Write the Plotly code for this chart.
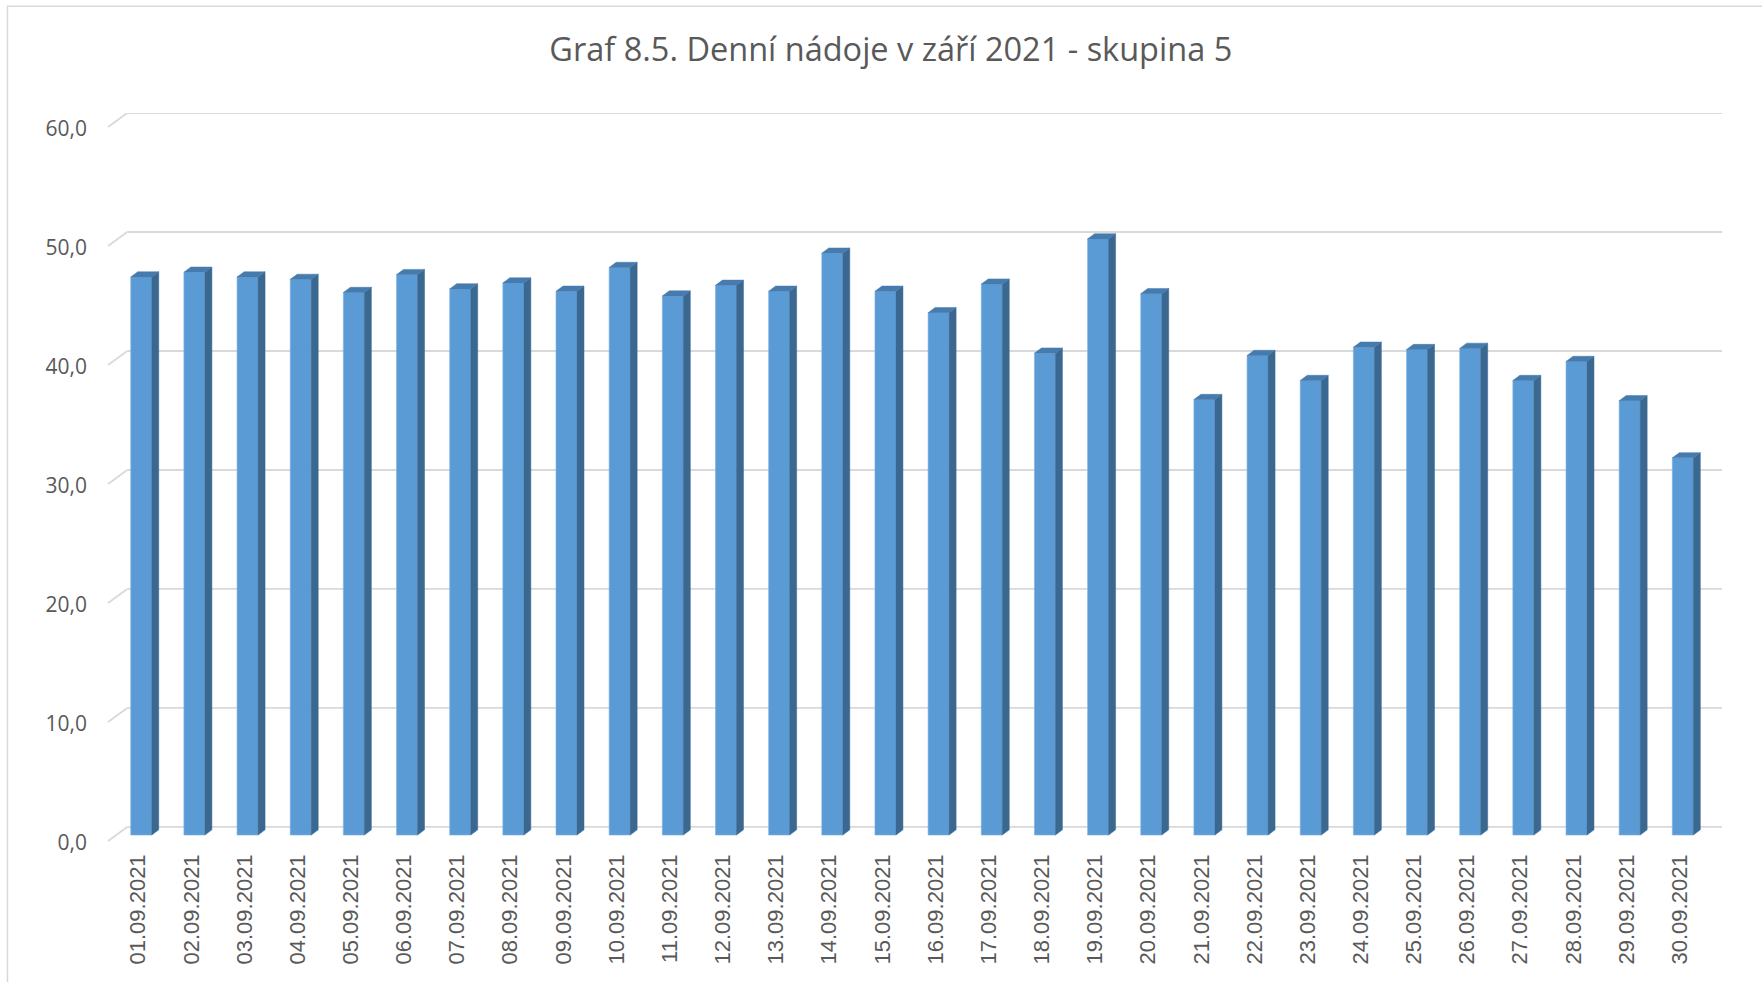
import plotly.graph_objects as go

# ---- data ----
dates = ["01.09.2021", "02.09.2021", "03.09.2021", "04.09.2021", "05.09.2021",
         "06.09.2021", "07.09.2021", "08.09.2021", "09.09.2021", "10.09.2021",
         "11.09.2021", "12.09.2021", "13.09.2021", "14.09.2021", "15.09.2021",
         "16.09.2021", "17.09.2021", "18.09.2021", "19.09.2021", "20.09.2021",
         "21.09.2021", "22.09.2021", "23.09.2021", "24.09.2021", "25.09.2021",
         "26.09.2021", "27.09.2021", "28.09.2021", "29.09.2021", "30.09.2021"]
values = [46.9, 47.3, 46.9, 46.7, 45.6, 47.1, 45.9, 46.4, 45.7, 47.7,
          45.3, 46.2, 45.7, 48.9, 45.7, 43.9, 46.3, 40.5, 50.1, 45.5,
          36.6, 40.3, 38.2, 41.0, 40.8, 40.9, 38.2, 39.8, 36.5, 31.7]
y_ticks = [0, 10, 20, 30, 40, 50, 60]
title_text = "Graf 8.5. Denní nádoje v září 2021 - skupina 5"

# ---- style / geometry (pixel-derived constants) ----
W, H = 1762, 982
px_per_cat = 53.16
px_per_unit = 11.9
x_range = [-0.9, 29.5]
y_range = [-1.6, 60.0]
plot_left = 127.5 - 0.4 * px_per_cat
plot_w = (x_range[1] - x_range[0]) * px_per_cat
plot_top = 112.7
plot_h = (y_range[1] - y_range[0]) * px_per_unit
m_l = plot_left
m_r = W - plot_left - plot_w
m_t = plot_top
m_b = H - plot_top - plot_h

front_shift = -12.6 / px_per_cat      # front face centre relative to back-wall category centre
bar_w = 21.0 / px_per_cat
front_dy = 8.1 / px_per_unit          # front face lowered (perspective)
side_w = 7.0 / px_per_cat
side_h = 5.2 / px_per_unit
wall_dx = 19.2 / px_per_cat
wall_dy = 14.0 / px_per_unit
label_shift = 16.0 / px_per_unit
label_dx = -3.0 / px_per_cat

C_FRONT = "#5B9BD5"
C_SIDE = "#3B6890"
C_TOP = "#467BAE"
C_GRID = "#D9D9D9"
C_TEXT = "#595959"

n = len(values)
xs = [i + front_shift for i in range(n)]

fig = go.Figure()

# side and top faces of the 3-D columns
sx, sy = [], []
tx, ty = [], []
for x, v in zip(xs, values):
    xr = x + bar_w / 2
    xl = x - bar_w / 2
    top = v - front_dy
    sx += [xr, xr, xr + side_w, xr + side_w, xr, None]
    sy += [-front_dy, top, top + side_h, -front_dy + side_h, -front_dy, None]
    tx += [xl, xr, xr + side_w, xl + side_w, xl, None]
    ty += [top, top, top + side_h, top + side_h, top, None]
fig.add_trace(go.Scatter(x=sx, y=sy, mode="lines", fill="toself", fillcolor=C_SIDE,
                         line=dict(color=C_SIDE, width=0.5), hoverinfo="skip", showlegend=False))
fig.add_trace(go.Scatter(x=tx, y=ty, mode="lines", fill="toself", fillcolor=C_TOP,
                         line=dict(color=C_TOP, width=0.5), hoverinfo="skip", showlegend=False))

# front faces
fig.add_trace(go.Bar(x=xs, y=values, base=[-front_dy] * n, width=bar_w,
                     marker=dict(color=C_FRONT, line=dict(color="#7FB2E0", width=0.6)),
                     customdata=dates, hovertemplate="%{customdata}: %{y:.1f}<extra></extra>",
                     showlegend=False))

# dummy trace to anchor the label axis
fig.add_trace(go.Scatter(x=[0], y=[0], yaxis="y2", mode="markers",
                         marker=dict(opacity=0), hoverinfo="skip", showlegend=False))

# gridlines on back wall + left-wall diagonals (below the columns)
shapes = []
for v in y_ticks:
    shapes.append(dict(type="line", xref="x", yref="y", x0=-0.5, x1=n - 0.5, y0=v, y1=v,
                       line=dict(color=C_GRID, width=1.8), layer="below"))
    shapes.append(dict(type="line", xref="x", yref="y", x0=-0.5 - wall_dx, x1=-0.5,
                       y0=v - wall_dy, y1=v, line=dict(color=C_GRID, width=1.8), layer="below"))
# chart-area border
shapes.append(dict(type="rect", xref="paper", yref="paper",
                   x0=(7.7 - m_l) / plot_w, x1=(W + 5 - m_l) / plot_w,
                   y0=(plot_top + plot_h - (H + 5)) / plot_h,
                   y1=(plot_top + plot_h - 6) / plot_h,
                   line=dict(color=C_GRID, width=1.5), layer="below"))

fig.update_layout(
    width=W, height=H,
    margin=dict(l=m_l, r=m_r, t=m_t, b=m_b, autoexpand=False),
    paper_bgcolor="white", plot_bgcolor="white",
    separators=", ",
    barmode="overlay",
    title=dict(text=title_text, x=890.8 / W, xref="container", xanchor="center",
               y=1 - 49.5 / H, yref="container", yanchor="middle",
               font=dict(family="Open Sans", size=32.5, color=C_TEXT)),
    xaxis=dict(range=x_range, showgrid=False, zeroline=False, showline=False,
               tickmode="array", tickvals=[x + label_dx for x in xs], ticktext=dates,
               tickangle=-90, ticks="", ticklabelstandoff=3,
               tickfont=dict(family="Liberation Sans", size=22, color=C_TEXT)),
    yaxis=dict(range=y_range, showgrid=False, zeroline=False, showline=False,
               showticklabels=False, ticks=""),
    yaxis2=dict(range=[y_range[0] + label_shift, y_range[1] + label_shift],
                overlaying="y", side="left", showgrid=False, zeroline=False,
                showline=False, tickmode="array", tickvals=y_ticks, tickformat=".1f",
                ticks="", ticklabelstandoff=18,
                tickfont=dict(family="Open Sans", size=21, color=C_TEXT)),
    shapes=shapes,
)

fig.write_html("out.html", config={"displayModeBar": False},
               post_script="document.body.style.margin='0';")
